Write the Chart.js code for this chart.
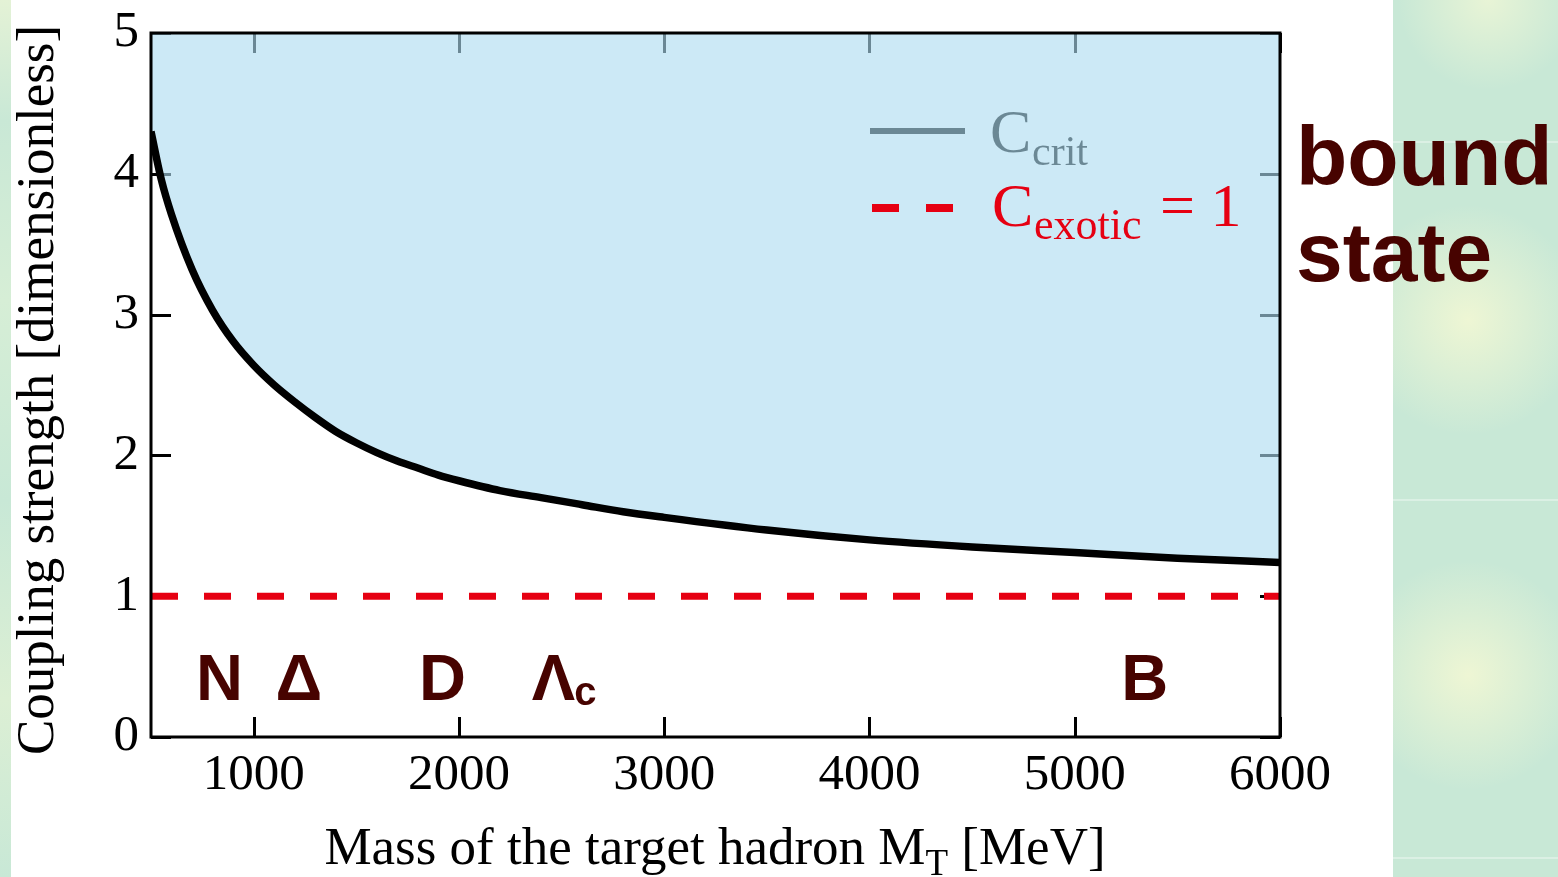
<!DOCTYPE html>
<html>
<head>
<meta charset="utf-8">
<script src="https://cdn.jsdelivr.net/npm/chart.js@4"></script>
<style>
html, body { margin: 0; padding: 0; }
body { width: 1558px; height: 877px; overflow: hidden; position: relative; background: #fff; }
#side {
    position: absolute; left: 1393px; top: 0; width: 165px; height: 877px;
    background:
        linear-gradient(to bottom, transparent 141px, rgba(255,255,255,0.35) 141px, rgba(255,255,255,0.35) 143px, transparent 143px,
                        transparent 499px, rgba(255,255,255,0.35) 499px, rgba(255,255,255,0.35) 501px, transparent 501px,
                        transparent 857px, rgba(255,255,255,0.35) 857px, rgba(255,255,255,0.35) 859px, transparent 859px),
        radial-gradient(circle at 75px 320px, rgba(238,246,212,1) 0, rgba(238,246,212,0) 115px),
        radial-gradient(circle at 75px 675px, rgba(238,246,212,1) 0, rgba(238,246,212,0) 115px),
        radial-gradient(circle at 95px 0px, rgba(232,244,214,1) 0, rgba(232,244,214,0) 90px),
        #c8e8d6;
}
#strip {
    position: absolute; left: 0; top: 0; width: 11px; height: 877px;
    background: linear-gradient(to bottom, #e4f2d6 0, #c9e8d6 120px, #d6eed6 300px, #c8e8d6 500px, #dcefd4 700px, #c8e8d6 877px);
}
#wrap { position: absolute; left: 0; top: 0; width: 1558px; height: 877px; }
</style>
</head>
<body>
<div id="side"></div>
<div id="strip"></div>
<div id="wrap"><canvas id="chart" width="1558" height="877"></canvas></div>
<script>
// critical coupling
const masses = [500, 550, 600, 700, 800, 900, 1000, 1100, 1200, 1300, 1400, 1500, 1600, 1700, 1800, 1900, 2000,
                2200, 2400, 2600, 2800, 3000, 3500, 4000, 4500, 5000, 5500, 6000];
const cCrit = [4.30, 3.96, 3.71, 3.32, 3.03, 2.81, 2.64, 2.50, 2.38, 2.27, 2.17, 2.09, 2.02, 1.96, 1.91, 1.86, 1.82,
               1.75, 1.70, 1.65, 1.60, 1.56, 1.47, 1.40, 1.35, 1.31, 1.27, 1.24];
const exoticMass = [500, 6000];
const cExotic = [1, 1];

const xTicks = [1000, 2000, 3000, 4000, 5000, 6000];
const yTicks = [0, 1, 2, 3, 4, 5];

// hadron labels: name, subscript, mass position
const hadronNames = ['N', '\u0394', 'D', '\u039B', 'B'];
const hadronSubs = ['', '', '', 'c', ''];
const hadronPos = [834, 1220, 1920, 2461, 5341];
const hadronLevel = 0.26;

const serif = '"Liberation Serif", "Times New Roman", serif';
const sans = '"Liberation Sans", Arial, sans-serif';
const maroon = '#470300';
const red = '#e60012';

const decor = {
    id: 'decor',
    beforeDatasetsDraw(chart) {
        const c = chart.ctx, a = chart.chartArea;
        const xs = chart.scales.x, ys = chart.scales.y;
        c.save();
        // inward ticks, black (the fill drawn afterwards tints them)
        c.strokeStyle = '#000';
        c.lineWidth = 3;
        c.beginPath();
        xTicks.forEach(v => {
            const px = Math.round(xs.getPixelForValue(v)) + 0.5;
            c.moveTo(px, a.bottom); c.lineTo(px, a.bottom - 20);
            c.moveTo(px, a.top); c.lineTo(px, a.top + 20);
        });
        yTicks.forEach(v => {
            const py = Math.round(ys.getPixelForValue(v)) + 0.5;
            c.moveTo(a.left, py); c.lineTo(a.left + 20, py);
            c.moveTo(a.right, py); c.lineTo(a.right - 20, py);
        });
        c.stroke();
        // legend entry for C_crit (sits under the fill)
        c.lineWidth = 6;
        c.beginPath();
        c.moveTo(870, 131); c.lineTo(965, 131);
        c.stroke();
        c.fillStyle = '#000';
        c.textBaseline = 'alphabetic';
        c.textAlign = 'left';
        c.font = '62px ' + serif;
        c.fillText('C', 990, 152);
        c.font = '42px ' + serif;
        c.fillText('crit', 1032, 165);
        c.restore();
    },
    afterDatasetsDraw(chart) {
        const c = chart.ctx, a = chart.chartArea;
        const xs = chart.scales.x, ys = chart.scales.y;
        c.save();
        // frame
        c.strokeStyle = '#000';
        c.lineWidth = 3;
        c.strokeRect(a.left, a.top, a.right - a.left, a.bottom - a.top);
        // legend entry for C_exotic
        c.strokeStyle = red;
        c.lineWidth = 8;
        c.beginPath();
        c.moveTo(872, 208); c.lineTo(899, 208);
        c.moveTo(926, 208); c.lineTo(953, 208);
        c.stroke();
        c.fillStyle = red;
        c.textBaseline = 'alphabetic';
        c.textAlign = 'left';
        c.font = '62px ' + serif;
        c.fillText('C', 992, 226);
        c.font = '44px ' + serif;
        c.fillText('exotic', 1034, 239);
        c.font = '62px ' + serif;
        c.fillText('= 1', 1160, 226);
        // hadron labels
        c.fillStyle = maroon;
        const base = ys.getPixelForValue(hadronLevel);
        hadronNames.forEach((n, i) => {
            const px = xs.getPixelForValue(hadronPos[i]);
            c.font = 'bold 65px ' + sans;
            c.textAlign = 'center';
            c.fillText(n, px, base);
            if (hadronSubs[i]) {
                const w = c.measureText(n).width;
                c.textAlign = 'left';
                c.font = 'bold 40px ' + sans;
                c.fillText(hadronSubs[i], px + w / 2 - 1, base + 5);
            }
        });
        c.restore();
    },
    afterDraw(chart) {
        const c = chart.ctx;
        c.save();
        c.fillStyle = '#000';
        c.textBaseline = 'alphabetic';
        // x axis title with subscript
        c.textAlign = 'left';
        const t1 = 'Mass of the target hadron M', t2 = 'T', t3 = ' [MeV]';
        c.font = '53px ' + serif;
        const w1 = c.measureText(t1).width, w3 = c.measureText(t3).width;
        c.font = '37px ' + serif;
        const w2 = c.measureText(t2).width;
        const x0 = 715 - (w1 + w2 + w3) / 2;
        c.font = '53px ' + serif;
        c.fillText(t1, x0, 864);
        c.fillText(t3, x0 + w1 + w2, 864);
        c.font = '37px ' + serif;
        c.fillText(t2, x0 + w1, 875);
        // y axis title
        c.translate(53, 390);
        c.rotate(-Math.PI / 2);
        c.textAlign = 'center';
        c.font = '53px ' + serif;
        c.fillText('Coupling strength [dimensionless]', 0, 0);
        c.restore();
        // bound state
        c.save();
        c.fillStyle = maroon;
        c.textAlign = 'left';
        c.font = 'bold 84px ' + sans;
        c.fillText('bound', 1296, 185);
        c.fillText('state', 1296, 281);
        c.restore();
    }
};

document.addEventListener('DOMContentLoaded', function () {
    const ctx = document.getElementById('chart').getContext('2d');
    const data = {
        datasets: [
            {
                label: 'C_crit',
                data: masses.map((m, i) => ({ x: m, y: cCrit[i] })),
                borderColor: '#000',
                borderWidth: 7.5,
                backgroundColor: 'rgba(172, 219, 240, 0.62)',
                fill: 'end',
                pointRadius: 0,
                cubicInterpolationMode: 'monotone'
            },
            {
                label: 'C_exotic = 1',
                data: exoticMass.map((m, i) => ({ x: m, y: cExotic[i] })),
                borderColor: red,
                borderWidth: 7,
                borderDash: [27, 26],
                fill: false,
                pointRadius: 0
            }
        ]
    };

    const config = {
        type: 'line',
        data: data,
        options: {
            responsive: false,
            animation: false,
            events: [],
            layout: { padding: { top: 33, right: 278, left: 0, bottom: 0 } },
            plugins: {
                legend: { display: false },
                title: { display: false },
                tooltip: { enabled: false }
            },
            scales: {
                x: {
                    type: 'linear',
                    min: 500,
                    max: 6000,
                    grid: { display: false, drawTicks: false },
                    border: { display: false },
                    afterBuildTicks: s => { s.ticks = xTicks.map(v => ({ value: v })); },
                    afterFit: s => { s.height = 140; s.paddingLeft = 0; s.paddingRight = 0; },
                    ticks: { color: '#000', font: { family: serif, size: 51 }, padding: 8, maxRotation: 0,
                             callback: v => String(v) }
                },
                y: {
                    type: 'linear',
                    min: 0,
                    max: 5,
                    grid: { display: false, drawTicks: false },
                    border: { display: false },
                    afterBuildTicks: s => { s.ticks = yTicks.map(v => ({ value: v })); },
                    afterFit: s => { s.width = 151; s.paddingTop = 0; s.paddingBottom = 0; },
                    ticks: { color: '#000', font: { family: serif, size: 51 }, padding: 12,
                             callback: v => String(v) }
                }
            }
        },
        plugins: [decor]
    };

    new Chart(ctx, config);
});
</script>
</body>
</html>
